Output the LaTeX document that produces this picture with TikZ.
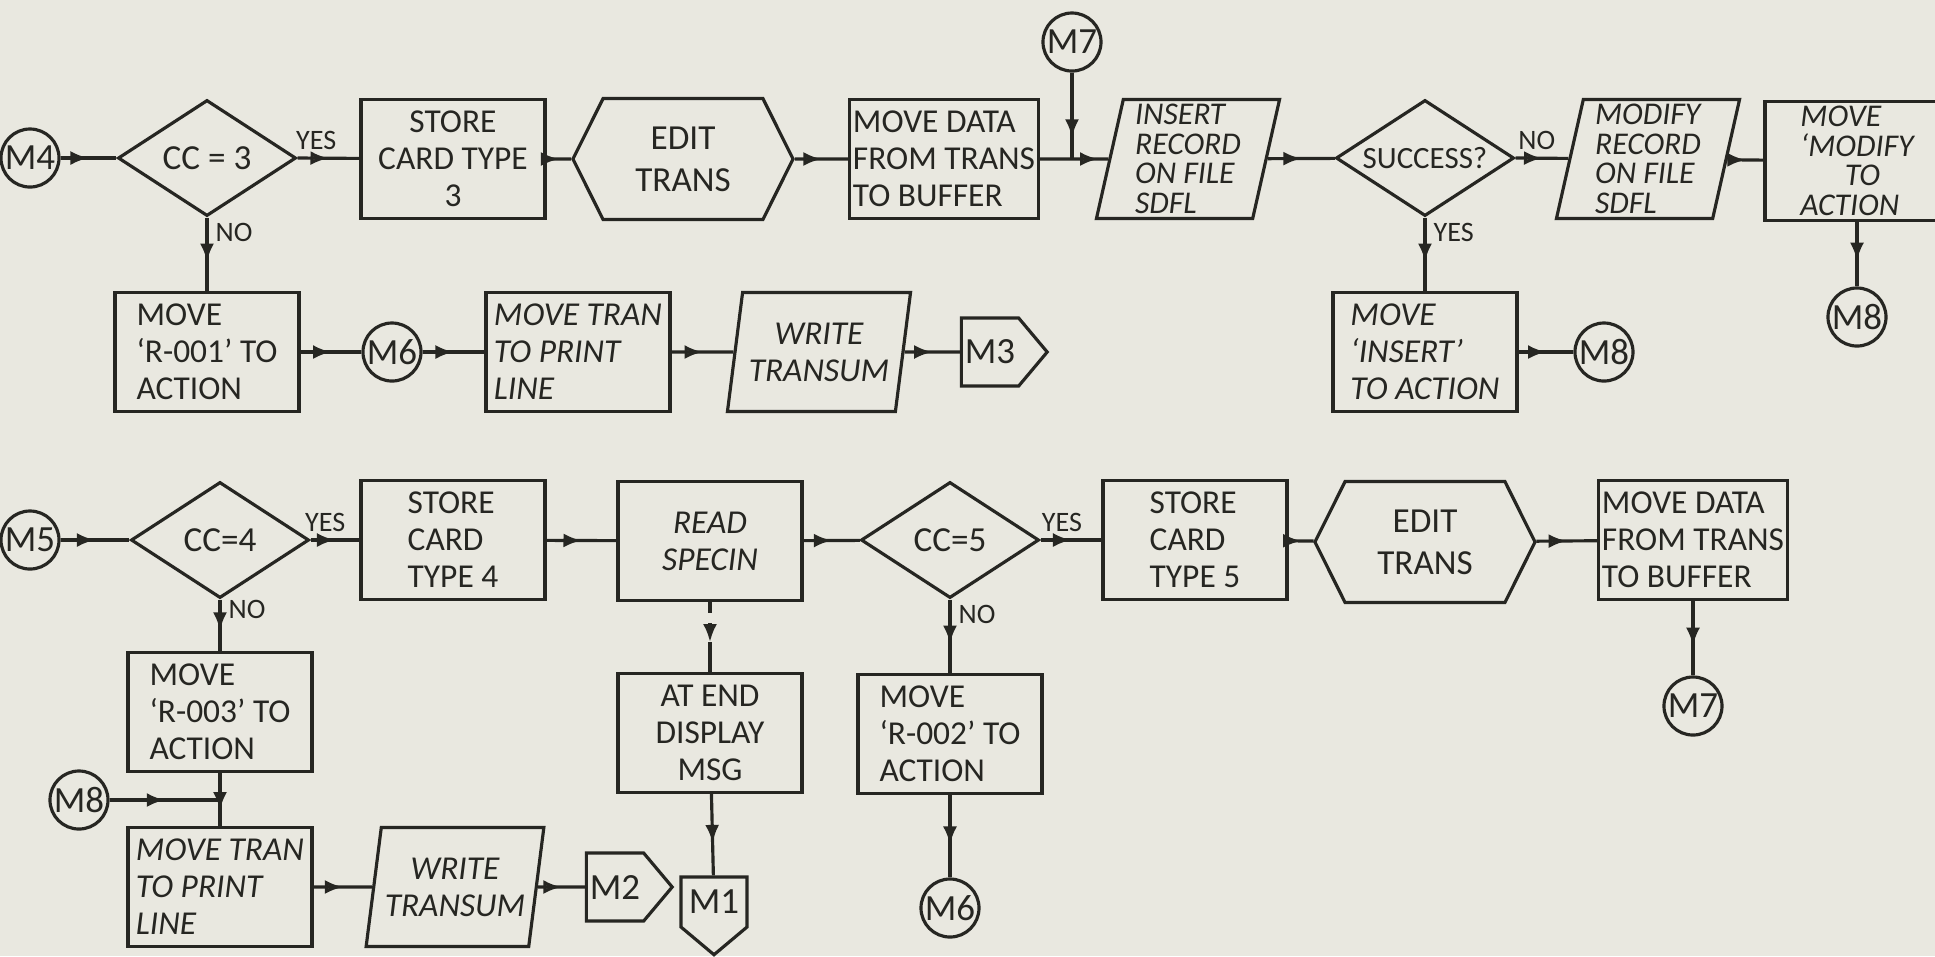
\documentclass[tikz,border=0pt]{standalone}
\usepackage{fontspec}
\setmainfont{Carlito}
\usetikzlibrary{arrows.meta,shapes.geometric,shapes.symbols,decorations.markings}
\definecolor{paper}{RGB}{233,232,224}
\definecolor{ink}{RGB}{38,38,34}

\begin{document}
\begin{tikzpicture}[x=0.01cm,y=-0.01cm,
  every node/.style={font=\fontsize{9.5}{10.5}\selectfont,text=ink},
  base/.style={draw=ink,line width=0.9pt,inner sep=1pt,align=center},
  box/.style={base,rectangle,minimum width=1.84cm,minimum height=1.19cm},
  dec/.style={base,diamond,aspect=1.55,minimum width=1.78cm,minimum height=1.16cm,
    inner sep=0pt,font=\fontsize{10}{11}\selectfont},
  io/.style={base,trapezium,trapezium left angle=77,trapezium right angle=103,
    trapezium stretches body,minimum width=1.83cm,minimum height=1.19cm},
  prep/.style={base,signal,signal to=east and west,signal pointer angle=127,
    minimum width=2.2cm,minimum height=1.21cm,font=\fontsize{10}{12}\selectfont},
  conn/.style={base,circle,minimum size=0.58cm,inner sep=0pt,font=\fontsize{10.5}{11}\selectfont},
  offpage/.style={base,signal,signal to=#1,signal pointer angle=100,
    minimum width=0.74cm,minimum height=0.68cm,inner sep=1pt,font=\fontsize{10.5}{11}\selectfont},
  hand/.style={font=\fontsize{9.5}{10.5}\selectfont\itshape},
  tight/.style={font=\fontsize{9}{8.4}\selectfont\itshape},
  flow/.style={draw=ink,line width=0.9pt,postaction={decorate},
    decoration={markings,mark=at position #1 with {\arrow{Latex[open,length=1.8mm,width=1.4mm]}}}},
  flow/.default=0.5,
  tag/.style={font=\fontsize{8}{8}\selectfont,inner sep=2pt}]
\useasboundingbox[fill=paper] (0,0) rectangle (1935,956);
\clip (0,0) rectangle (1935,956);

\node[conn] (m4) at (30,158) {M4};
\node[dec] (cc3) at (207,158) {CC = 3};
\node[box] (store3) at (453,159) {STORE\\CARD TYPE\\3};
\node[prep] (edit1) at (683,159) {EDIT\\TRANS};
\node[box,align=left] (move1) at (944,159) {MOVE DATA\\FROM TRANS\\TO BUFFER};
\node[conn] (m7a) at (1072,42) {M7};
\node[io,tight,align=left] (insert) at (1188,159) {INSERT\\RECORD\\ON FILE\\SDFL};
\node[dec,font=\fontsize{8.8}{10}\selectfont] (succ) at (1425,158) {SUCCESS?};
\node[io,tight,align=left] (modify) at (1648,159) {MODIFY\\RECORD\\ON FILE\\SDFL};
\node[box,tight,align=left] (movemod) at (1857,161) {MOVE\\‘MODIFY\\\hspace{1.4em}TO\\ACTION};
\node[conn] (m8a) at (1857,317) {M8};

\node[box,align=left] (r001) at (207,352) {MOVE\\‘R-001’ TO\\ACTION};
\node[conn] (m6a) at (392,352) {M6};
\node[box,hand,align=left] (tran1) at (578,352) {MOVE TRAN\\TO PRINT\\LINE};
\node[io,hand] (write1) at (819,352) {WRITE\\TRANSUM};
\node[offpage=east] (m3) at (990,352) {M3};
\node[box,hand,align=left] (moveins) at (1425,352) {MOVE\\‘INSERT’\\TO ACTION};
\node[conn] (m8b) at (1604,352) {M8};

\node[conn] (m5) at (30,540) {M5};
\node[dec] (cc4) at (220,540) {CC=4};
\node[box,align=left] (store4) at (453,540) {STORE\\CARD\\TYPE 4};
\node[box,hand] (read) at (710,541) {READ\\SPECIN};
\node[dec] (cc5) at (950,540) {CC=5};
\node[box,align=left] (store5) at (1195,540) {STORE\\CARD\\TYPE 5};
\node[prep] (edit2) at (1425,542) {EDIT\\TRANS};
\node[box,align=left] (move2) at (1693,540) {MOVE DATA\\FROM TRANS\\TO BUFFER};
\node[conn] (m7b) at (1693,706) {M7};

\node[box,align=left] (r003) at (220,712) {MOVE\\‘R-003’ TO\\ACTION};
\node[conn] (m8c) at (79,800) {M8};
\node[box,hand,align=left] (tran2) at (220,887) {MOVE TRAN\\TO PRINT\\LINE};
\node[io,hand,minimum width=1.57cm] (write2) at (455,887) {WRITE\\TRANSUM};
\node[offpage=east] (m2) at (615,887) {M2};
\node[box] (atend) at (710,733) {AT END\\DISPLAY\\MSG};
\node[offpage=south,minimum width=0.66cm,minimum height=0.74cm] (m1) at (714,902) {M1};
\node[box,align=left] (r002) at (950,734) {MOVE\\‘R-002’ TO\\ACTION};
\node[conn] (m6b) at (950,908) {M6};

\coordinate (j1) at (m7a |- move1.east);
\coordinate (j2) at (r003 |- m8c);
\coordinate (j3) at (710,642);

\draw[flow] (m4) -- (cc3);
\draw[flow] (cc3.east) -- node[tag,above,pos=0.3]{YES} (store3);
\draw[flow] (store3) -- (edit1);
\draw[flow] (edit1) -- (move1);
\draw[flow=0.85] (move1) -- (insert);
\draw[flow=0.75] (m7a) -- (j1);
\draw[flow] (insert) -- (succ);
\draw[flow] (succ.east) -- node[tag,above,pos=0.4]{NO} (modify);
\draw[flow] (modify) -- (movemod);
\draw[flow=0.6] (cc3.south) -- node[tag,right,pos=0.2]{NO} (r001);
\draw[flow=0.6] (succ.south) -- node[tag,right,pos=0.2]{YES} (moveins);
\draw[flow=0.6] (movemod) -- (m8a);

\draw[flow] (r001) -- (m6a);
\draw[flow] (m6a) -- (tran1);
\draw[flow] (tran1) -- (write1);
\draw[flow] (write1) -- (m3);
\draw[flow] (moveins) -- (m8b);

\draw[flow] (m5) -- (cc4);
\draw[flow] (cc4.east) -- node[tag,above,pos=0.3]{YES} (store4);
\draw[flow] (store4) -- (read);
\draw[flow] (read) -- (cc5);
\draw[flow] (cc5.east) -- node[tag,above,pos=0.35]{YES} (store5);
\draw[flow] (store5) -- (edit2);
\draw[flow] (edit2) -- (move2);
\draw[flow=0.6] (move2) -- (m7b);
\draw[flow=0.6] (cc4.south) -- node[tag,right,pos=0.2]{NO} (r003);
\draw[flow=0.6] (cc5.south) -- node[tag,right,pos=0.2]{NO} (r002);
\draw[flow=1,dashed] (read) -- (j3);
\draw[draw=ink,line width=0.9pt] (j3) -- (atend);
\draw[flow=0.6] (atend) -- (m1);
\draw[flow=0.6] (r002) -- (m6b);

\draw[flow=0.7] (r003) -- (tran2);
\draw[flow] (m8c) -- (j2);
\draw[flow] (tran2) -- (write2);
\draw[flow] (write2) -- (m2);
\end{tikzpicture}
\end{document}
